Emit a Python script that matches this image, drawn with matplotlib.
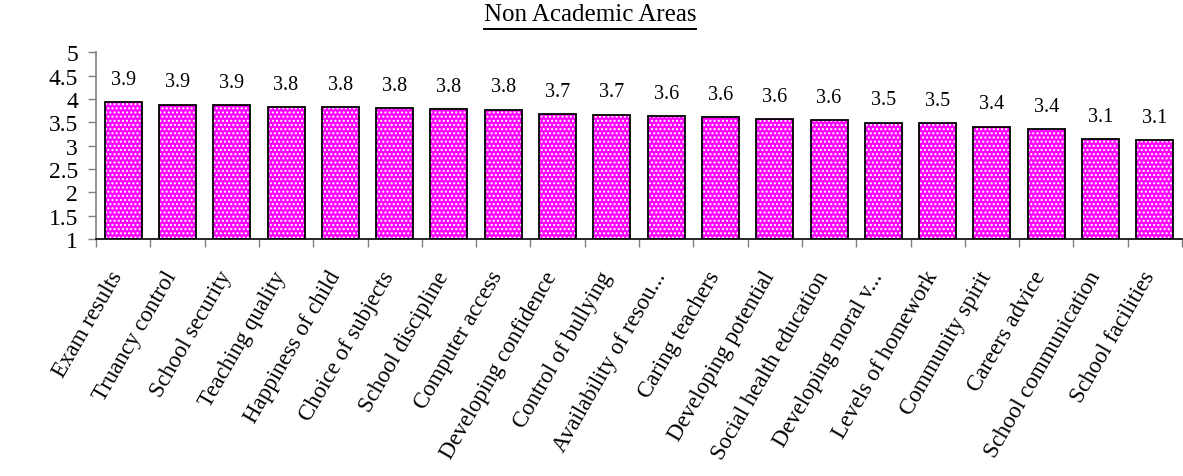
import matplotlib
matplotlib.use("Agg")
import matplotlib.pyplot as plt
from matplotlib.lines import Line2D
from matplotlib.transforms import ScaledTranslation

categories = ["Exam results", "Truancy control", "School security", "Teaching quality",
              "Happiness of child", "Choice of subjects", "School discipline", "Computer access",
              "Developing confidence", "Control of bullying", "Availability of resou...",
              "Caring teachers", "Developing potential", "Social health education",
              "Developing moral v...", "Levels of homework", "Community spirit",
              "Careers advice", "School communication", "School facilities"]
means = [3.93, 3.88, 3.865, 3.82, 3.82, 3.80, 3.78, 3.77, 3.67, 3.66,
         3.63, 3.61, 3.57, 3.54, 3.49, 3.48, 3.41, 3.35, 3.14, 3.12]
value_labels = ["3.9", "3.9", "3.9", "3.8", "3.8", "3.8", "3.8", "3.8", "3.7", "3.7",
                "3.6", "3.6", "3.6", "3.6", "3.5", "3.5", "3.4", "3.4", "3.1", "3.1"]
yticks = [1, 1.5, 2, 2.5, 3, 3.5, 4, 4.5, 5]
ytick_labels = ["1", "1.5", "2", "2.5", "3", "3.5", "4", "4.5", "5"]
title = "Non Academic Areas"
ylabel = "Mean"

plt.rcParams['font.family'] = ['Liberation Serif', 'DejaVu Serif']
plt.rcParams['hatch.linewidth'] = 1.0

W, H = 1183, 477
fig = plt.figure(figsize=(W / 100, H / 100), dpi=100)
ax = fig.add_axes([96 / W, 1 - 240 / H, (1182 - 96) / W, (240 - 53.3) / H])

x = list(range(len(categories)))
base = 1
heights = [m - base for m in means]
ax.bar(x, heights, bottom=base, width=0.68, color="#FF00FF", edgecolor="white",
       hatch="....", linewidth=0, zorder=2)
ax.bar(x, heights, bottom=base, width=0.68, facecolor="none", edgecolor="black",
       linewidth=1.3, zorder=3)

for xi, m, lab in zip(x, means, value_labels):
    ax.annotate(lab, (xi, m), xytext=(0, 23), textcoords="offset pixels",
                ha="center", va="center", fontsize=14.5)

ax.set_xlim(-0.5, len(categories) - 0.5)
ax.set_ylim(1, 5)
ax.set_yticks(yticks)
ax.set_yticklabels(ytick_labels, fontsize=17)
ax.tick_params(axis="y", direction="out", length=6, width=1, color="#808080", pad=7)

ax.set_xticks([i - 0.5 for i in range(len(categories) + 1)])
ax.set_xticklabels([])
ax.tick_params(axis="x", direction="out", length=6, width=1, color="#808080")
ax.set_xticks(x, minor=True)
ax.set_xticklabels(categories, minor=True, rotation=60, ha="right", va="center",
                   rotation_mode="anchor", fontsize=16.5)
ax.tick_params(axis="x", which="minor", length=0, pad=24)
shift = ScaledTranslation(-5 / 100, 0, fig.dpi_scale_trans)
for lab in ax.get_xticklabels(minor=True):
    lab.set_transform(lab.get_transform() + shift)

for s in ["top", "right"]:
    ax.spines[s].set_visible(False)
ax.spines["left"].set_color("#808080")
ax.spines["bottom"].set_color("black")
ax.spines["left"].set_linewidth(1.2)
ax.spines["bottom"].set_linewidth(1.2)

ax.set_ylabel(ylabel, fontsize=16.5)
ax.yaxis.label.set_transform(fig.transFigure)
ax.yaxis.label.set_position((17 / W, 1 - 146 / H))
ax.yaxis.label.set_va("center")

t = fig.text(590 / W, 1 - 15 / H, title, ha="center", va="center", fontsize=18)
fig.canvas.draw()
bb = t.get_window_extent()
uy = 1 - 30 / H
fig.add_artist(Line2D([bb.x0 / W, bb.x1 / W], [uy, uy], color="black", linewidth=1.4,
                      transform=fig.transFigure))

fig.savefig("out.png", dpi=100)
